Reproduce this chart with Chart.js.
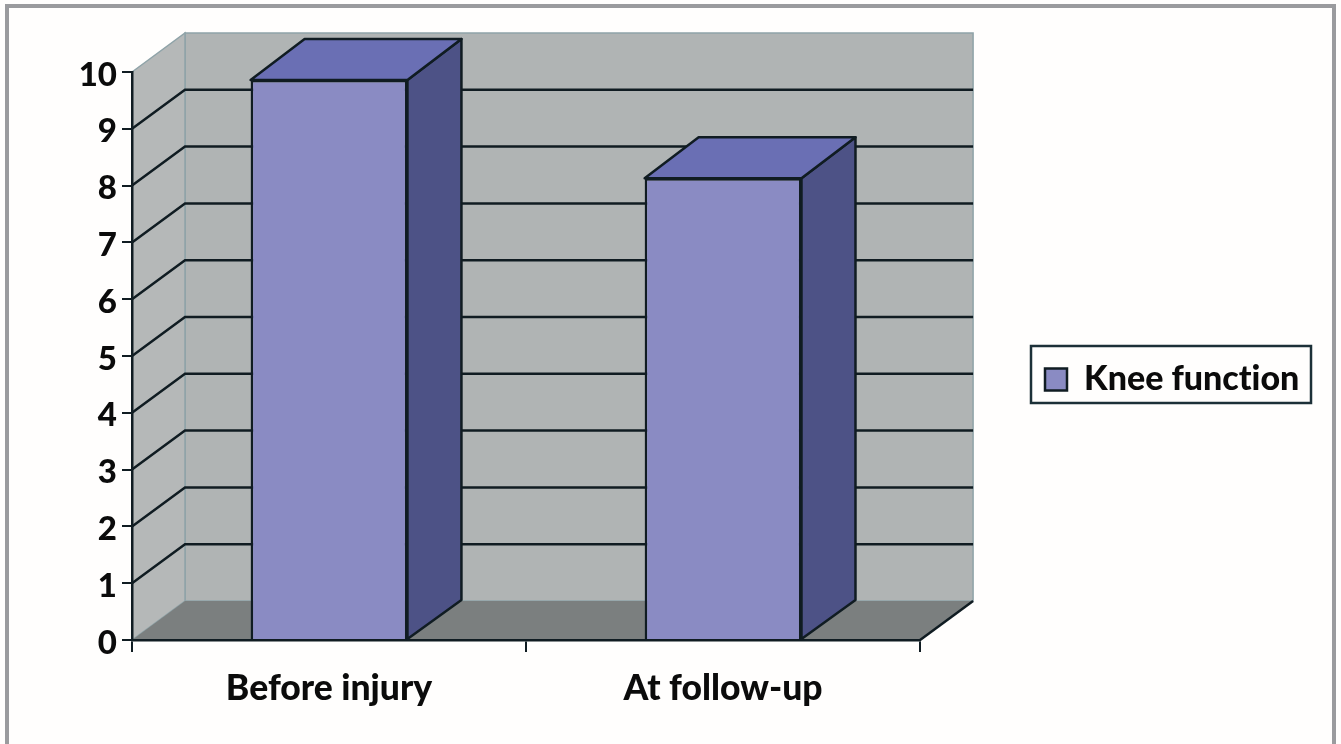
<!DOCTYPE html>
<html>
<head>
<meta charset="utf-8">
<title>Knee function</title>
<script src="https://cdn.jsdelivr.net/npm/chart.js@4"></script>
<style>
  html, body { margin: 0; padding: 0; background: #fffefd; overflow: hidden; }
  #frame { position: absolute; left: 5px; top: 4px; width: 1323px; height: 760px; border: 4px solid #9a9b9e; }
  #myChart { position: absolute; left: 0; top: 0; }
</style>
</head>
<body>
<div id="frame"></div>
<canvas id="myChart" width="1341" height="744"></canvas>
<script>
const categories = ["Before injury", "At follow-up"];
const seriesName = "Knee function";
const kneeFunction = [9.86, 8.13];
const yTicks = [0, 1, 2, 3, 4, 5, 6, 7, 8, 9, 10];

const lineColor = "#101c22";
const wallDepth = { x: 53, y: 39 };
const barDepth = { x: 54, y: 41 };
const legendBox = { left: 1031, top: 346, right: 1311, bottom: 403 };

function labelFont(size) {
  return { family: "Lato", weight: "900", size: size };
}

function poly(ctx, pts, fill, stroke, width) {
  ctx.beginPath();
  pts.forEach((p, i) => (i ? ctx.lineTo(p[0], p[1]) : ctx.moveTo(p[0], p[1])));
  ctx.closePath();
  if (fill) { ctx.fillStyle = fill; ctx.fill(); }
  if (stroke) { ctx.strokeStyle = stroke; ctx.lineWidth = width || 2; ctx.stroke(); }
}

// fake 3d box: walls and floor behind the axes
const walls = {
  id: "walls",
  beforeDraw(chart) {
    const { ctx, chartArea: a, scales: { y } } = chart;
    const dx = wallDepth.x, dy = wallDepth.y;
    ctx.textRendering = "optimizeSpeed"; // no "ti" ligature in the legend
    ctx.save();
    poly(ctx, [[a.left + dx, a.top - dy], [a.right + dx, a.top - dy], [a.right + dx, a.bottom - dy], [a.left + dx, a.bottom - dy]], "#b0b4b4", "#8fa3a8", 1.5);
    poly(ctx, [[a.left, a.top], [a.left + dx, a.top - dy], [a.left + dx, a.bottom - dy], [a.left, a.bottom]], "#b5b8b8", "#8fa3a8", 1.5);
    poly(ctx, [[a.left, a.bottom], [a.left + dx, a.bottom - dy], [a.right + dx, a.bottom - dy], [a.right, a.bottom]], "#7b7f7f");
    ctx.strokeStyle = lineColor;
    ctx.lineWidth = 2.5;
    yTicks.slice(1, -1).forEach(v => {
      const py = y.getPixelForValue(v);
      ctx.beginPath();
      ctx.moveTo(a.left, py);
      ctx.lineTo(a.left + dx, py - dy);
      ctx.lineTo(a.right + dx, py - dy);
      ctx.stroke();
    });
    ctx.beginPath();
    ctx.moveTo(a.right, a.bottom);
    ctx.lineTo(a.right + dx, a.bottom - dy);
    ctx.stroke();
    ctx.restore();
  },
  // top and side faces of the bars
  afterDatasetsDraw(chart) {
    const { ctx } = chart;
    ctx.save();
    ctx.lineJoin = "round";
    chart.getDatasetMeta(0).data.forEach(bar => {
      const l = bar.x - bar.width / 2, r = bar.x + bar.width / 2;
      const t = bar.y, b = bar.base;
      poly(ctx, [[r, t], [r + barDepth.x, t - barDepth.y], [r + barDepth.x, b - wallDepth.y], [r, b]], "#4d5286", lineColor, 2.5);
      poly(ctx, [[l, t], [l + barDepth.x, t - barDepth.y], [r + barDepth.x, t - barDepth.y], [r, t]], "#6a6fb4", lineColor, 2.5);
    });
    ctx.restore();
  },
  // move the legend away from the plot
  afterLayout(chart) {
    const lg = chart.legend;
    lg.left = legendBox.left; lg.right = legendBox.right;
    lg.top = legendBox.top + 5; lg.bottom = legendBox.bottom + 5;
    lg.width = lg.right - lg.left; lg.height = lg.bottom - lg.top;
  },
  afterDraw(chart) {
    const ctx = chart.ctx;
    ctx.save();
    ctx.strokeStyle = "#1c3038";
    ctx.lineWidth = 2.5;
    ctx.strokeRect(legendBox.left, legendBox.top, legendBox.right - legendBox.left, legendBox.bottom - legendBox.top);
    ctx.restore();
  }
};

const config = {
  type: "bar",
  data: {
    labels: categories,
    datasets: [{
      label: seriesName,
      data: kneeFunction,
      backgroundColor: "#8a8bc3",
      borderColor: lineColor,
      borderWidth: 2.5,
      barPercentage: 0.398,
      categoryPercentage: 1
    }]
  },
  options: {
    responsive: false,
    animation: false,
    layout: { padding: { top: 72, right: 142, left: 0, bottom: 0 } },
    scales: {
      x: {
        grid: { offset: true, drawOnChartArea: false, tickLength: 12, color: lineColor, lineWidth: 2 },
        border: { color: lineColor, width: 2.5 },
        ticks: { color: "#0b0b0b", font: labelFont(35.5), padding: 15, maxRotation: 0 },
        afterFit(scale) { scale.height = 104; }
      },
      y: {
        min: 0,
        max: 10,
        grid: { drawOnChartArea: false, tickLength: 10, color: lineColor, lineWidth: 2 },
        border: { color: lineColor, width: 2.5 },
        ticks: { stepSize: 1, color: "#0b0b0b", font: labelFont(33), padding: 5, labelOffset: 3 },
        afterFit(scale) { scale.width = 132; }
      }
    },
    plugins: {
      tooltip: { enabled: false },
      legend: {
        position: "right",
        labels: { color: "#0b0b0b", font: labelFont(34), boxWidth: 22, boxHeight: 22, padding: 14 }
      }
    }
  },
  plugins: [walls]
};

const myChart = new Chart(document.getElementById("myChart"), config);
</script>
</body>
</html>
